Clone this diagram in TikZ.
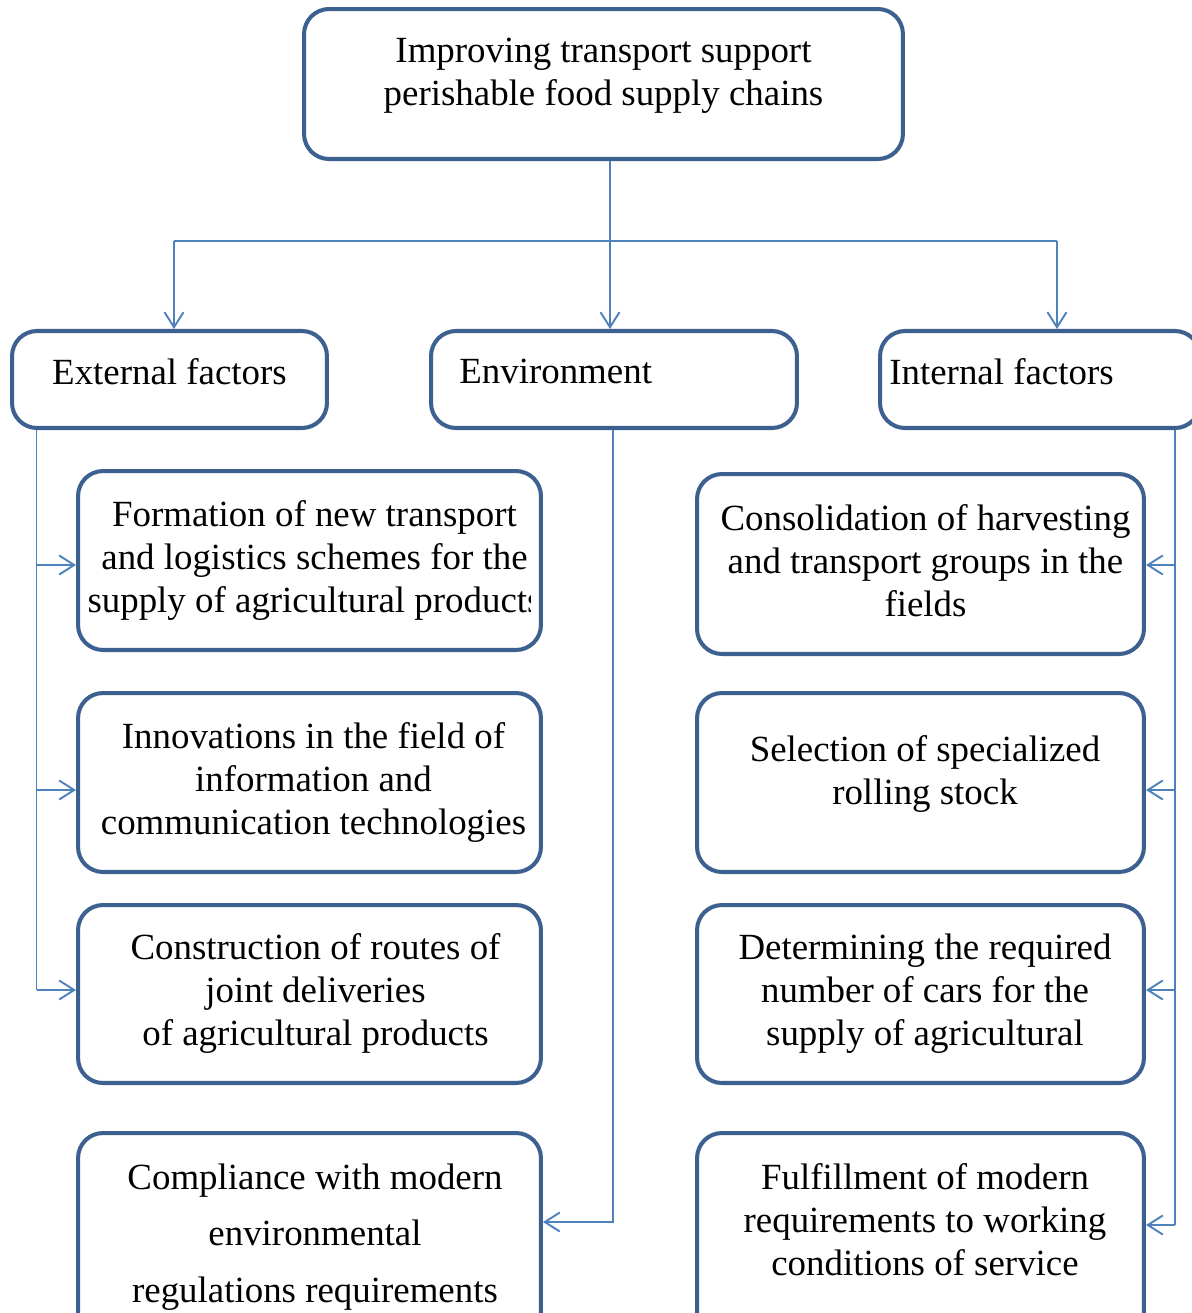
\documentclass[tikz,border=0pt]{standalone}
\usepackage{fontspec}
\setmainfont{Liberation Serif}
\usetikzlibrary{arrows.meta,calc}
\definecolor{boxc}{RGB}{60,96,143}
\definecolor{linec}{RGB}{79,129,189}
\begin{document}
\begin{tikzpicture}[x=0.02cm,y=-0.02cm,
  box/.style={draw=boxc,line width=2.3pt,rounded corners=0.5cm,fill=white,inner sep=0pt},
  txt/.style={inner sep=0pt,align=center,font=\fontsize{21}{24.4}\selectfont},
  conn/.style={draw=linec,line width=1.1pt},
  arr/.style={conn,-{Straight Barb[length=0.3cm,width=0.38cm,line width=1.1pt]}}]
\useasboundingbox (0,0) rectangle (1192,1313);
% boxes
\node[box,minimum width=11.98cm,minimum height=3.0cm] (top) at (603.5,84) {};
\node[box,minimum width=6.3cm,minimum height=1.94cm] (ext) at (169.5,379.5) {};
\node[box,minimum width=7.32cm,minimum height=1.94cm] (env) at (614,379.5) {};
\node[box,minimum width=6.4cm,minimum height=1.94cm] (int) at (1040,379.5) {};
\node[box,minimum width=9.26cm,minimum height=3.58cm] (L1) at (309.5,560.5) {};
\node[box,minimum width=9.26cm,minimum height=3.58cm] (L2) at (309.5,782.5) {};
\node[box,minimum width=9.26cm,minimum height=3.56cm] (L3) at (309.5,994) {};
\node[box,minimum width=9.26cm,minimum height=4.14cm] (L4) at (309.5,1236.5) {};
\node[box,minimum width=8.94cm,minimum height=3.6cm] (R1) at (920.5,564) {};
\node[box,minimum width=8.94cm,minimum height=3.58cm] (R2) at (920.5,782.5) {};
\node[box,minimum width=8.94cm,minimum height=3.56cm] (R3) at (920.5,994) {};
\node[box,minimum width=8.94cm,minimum height=4.14cm] (R4) at (920.5,1236.5) {};
% texts
\node[txt] (topT) at (603.5,75.5) {Improving transport support\\perishable food supply chains};
\node[txt] (extT) at (169.5,371.5) {External factors};
\node[txt,anchor=west] (envT) at (459,371.5) {Environment};
\node[txt,anchor=west] (intT) at (889,371.5) {Internal factors};
\begin{scope}
\clip (80,473) rectangle (530,648);
\node[txt] (L1T) at (314.5,560.5) {Formation of new transport\\and logistics schemes for the\\supply of agricultural products};
\end{scope}
\node[txt] (L2T) at (313.5,782.5) {Innovations in the field of\\information and\\communication technologies};
\node[txt] (L3T) at (315.5,993.5) {Construction of routes of\\joint deliveries\\of agricultural products};
\node[txt,font=\fontsize{21}{32.3}\selectfont] (L4T) at (315,1237) {Compliance with modern\\environmental\\regulations requirements};
\node[txt] (R1T) at (925.5,561) {Consolidation of harvesting\\and transport groups in the\\fields};
\node[txt] (R2T) at (925,774) {Selection of specialized\\rolling stock};
\node[txt] (R3T) at (925,993.5) {Determining the required\\number of cars for the\\supply of agricultural};
\node[txt] (R4T) at (925,1220) {Fulfillment of modern\\requirements to working\\conditions of service};
% top connectors
\coordinate (mid) at (610,241);
\coordinate (bL) at (174,241);
\coordinate (bR) at (1057,241);
\draw[arr] (mid |- top.south) -- (mid |- env.north);
\draw[conn] (bL) -- (bR);
\draw[arr] (bL) -- (bL |- ext.north);
\draw[arr] (bR) -- (bR |- int.north);
% left spine
\coordinate (sL) at (36.5,428);
\coordinate (a1) at (78,565);
\coordinate (a2) at (78,790);
\coordinate (a3) at (78,990);
\draw[conn] (sL |- ext.south) -- (sL |- a3);
\draw[arr] (sL |- a1) -- (L1.west |- a1);
\draw[arr] (sL |- a2) -- (L2.west |- a2);
\draw[arr] (sL |- a3) -- (L3.west |- a3);
% environment spine
\coordinate (sE) at (613,1222);
\draw[arr] (sE |- env.south) -- (sE) -- (L4.east |- sE);
% right spine
\coordinate (sR) at (1175,428);
\coordinate (b1) at (1145,565);
\coordinate (b2) at (1145,790);
\coordinate (b3) at (1145,990);
\coordinate (b4) at (1145,1225);
\draw[conn] (sR |- int.south) -- (sR |- b4);
\draw[arr] (sR |- b1) -- (R1.east |- b1);
\draw[arr] (sR |- b2) -- (R2.east |- b2);
\draw[arr] (sR |- b3) -- (R3.east |- b3);
\draw[arr] (sR |- b4) -- (R4.east |- b4);
\end{tikzpicture}
\end{document}
